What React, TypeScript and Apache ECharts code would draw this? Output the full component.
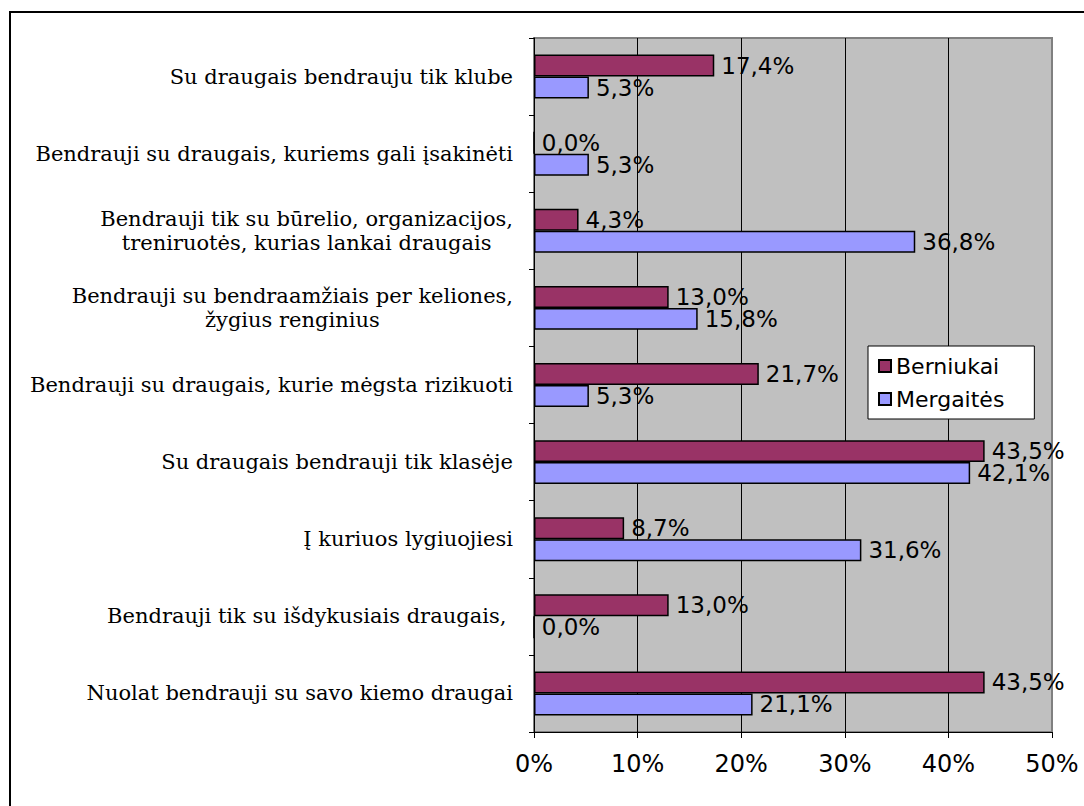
import React, { useEffect, useRef } from "react";
import * as echarts from "echarts";

const categories = [
  "Su draugais bendrauju tik klube",
  "Bendrauji su draugais, kuriems gali įsakinėti",
  "Bendrauji tik su būrelio, organizacijos,\ntreniruotės, kurias lankai draugais",
  "Bendrauji su bendraamžiais per keliones,\nžygius renginius",
  "Bendrauji su draugais, kurie mėgsta rizikuoti",
  "Su draugais bendrauji tik klasėje",
  "Į kuriuos lygiuojiesi",
  "Bendrauji tik su išdykusiais draugais, ",
  "Nuolat bendrauji su savo kiemo draugai",
];
const berniukai = [17.4, 0.0, 4.3, 13.0, 21.7, 43.5, 8.7, 13.0, 43.5];
const mergaites = [5.3, 5.3, 36.8, 15.8, 5.3, 42.1, 31.6, 0.0, 21.1];
const seriesNames = ["Berniukai", "Mergaitės"];

const SANS = "'DejaVu Sans', Arial, sans-serif";
const SERIF = "'DejaVu Serif', 'Liberation Serif', serif";

const fmt = (v: number) => v.toFixed(1).replace(".", ",") + "%";

export default function App() {
  const ref = useRef<HTMLDivElement>(null);
  useEffect(() => {
    if (!ref.current) return;
    const chart = echarts.init(ref.current, undefined, { renderer: "svg" });
    const labelStyle = {
      show: true,
      position: "right" as const,
      distance: 7,
      color: "#000",
      fontFamily: SANS,
      fontSize: 23,
      lineHeight: 21,
      formatter: (p: any) => fmt(p.value),
    };
    chart.setOption({
      animation: false,
      backgroundColor: "#fff",
      graphic: [
        {
          type: "rect",
          shape: { x: 10, y: 12, width: 1200, height: 900 },
          style: { fill: "none", stroke: "#000", lineWidth: 2 },
          z: -1,
        },
      ],
      grid: {
        left: 534,
        top: 38,
        right: 32,
        bottom: 74,
        show: true,
        backgroundColor: "#C0C0C0",
        borderColor: "#808080",
        borderWidth: 2,
      },
      legend: {
        orient: "vertical",
        left: 868,
        top: 346,
        data: seriesNames,
        backgroundColor: "#fff",
        borderColor: "#000",
        borderWidth: 1,
        padding: [9, 30, 9, 10],
        itemWidth: 12,
        itemHeight: 12,
        itemGap: 11,
        icon: "rect",
        textStyle: { fontFamily: SANS, fontSize: 22, color: "#000" },
      },
      xAxis: {
        type: "value",
        min: 0,
        max: 50,
        interval: 10,
        axisLine: { show: true, lineStyle: { color: "#000", width: 1 } },
        axisTick: { show: true, length: 6, lineStyle: { color: "#000" } },
        axisLabel: {
          formatter: "{value}%",
          color: "#000",
          fontFamily: SANS,
          fontSize: 24,
          margin: 20,
        },
        splitLine: {
          show: true,
          showMinLine: false,
          showMaxLine: false,
          lineStyle: { color: "#000", width: 1 },
        },
      },
      yAxis: {
        type: "category",
        inverse: true,
        data: categories,
        axisLine: { show: true, lineStyle: { color: "#000", width: 1 } },
        axisTick: { show: true, length: 5, inside: false, lineStyle: { color: "#000" } },
        axisLabel: {
          color: "#000",
          fontFamily: SERIF,
          fontSize: 21,
          lineHeight: 24,
          margin: 21,
          formatter: (v: string) =>
            v
              .split("\n")
              .map((l) => "{c|" + l + "}")
              .join("\n"),
          rich: {
            c: {
              align: "center",
              fontFamily: SERIF,
              fontSize: 21,
              lineHeight: 24,
              color: "#000",
            },
          },
        },
        splitLine: { show: false },
      },
      series: [
        {
          name: seriesNames[0],
          type: "bar",
          data: berniukai,
          barGap: "0%",
          barCategoryGap: "43%",
          itemStyle: { color: "#993366", borderColor: "#000", borderWidth: 1.5 },
          label: labelStyle,
        },
        {
          name: seriesNames[1],
          type: "bar",
          data: mergaites,
          barGap: "0%",
          barCategoryGap: "43%",
          itemStyle: { color: "#9999FF", borderColor: "#000", borderWidth: 1.5 },
          label: labelStyle,
        },
      ],
    });
    return () => chart.dispose();
  }, []);
  return (
    <div
      ref={ref}
      style={{ position: "absolute", left: 0, top: 0, width: 1084, height: 806 }}
    />
  );
}
